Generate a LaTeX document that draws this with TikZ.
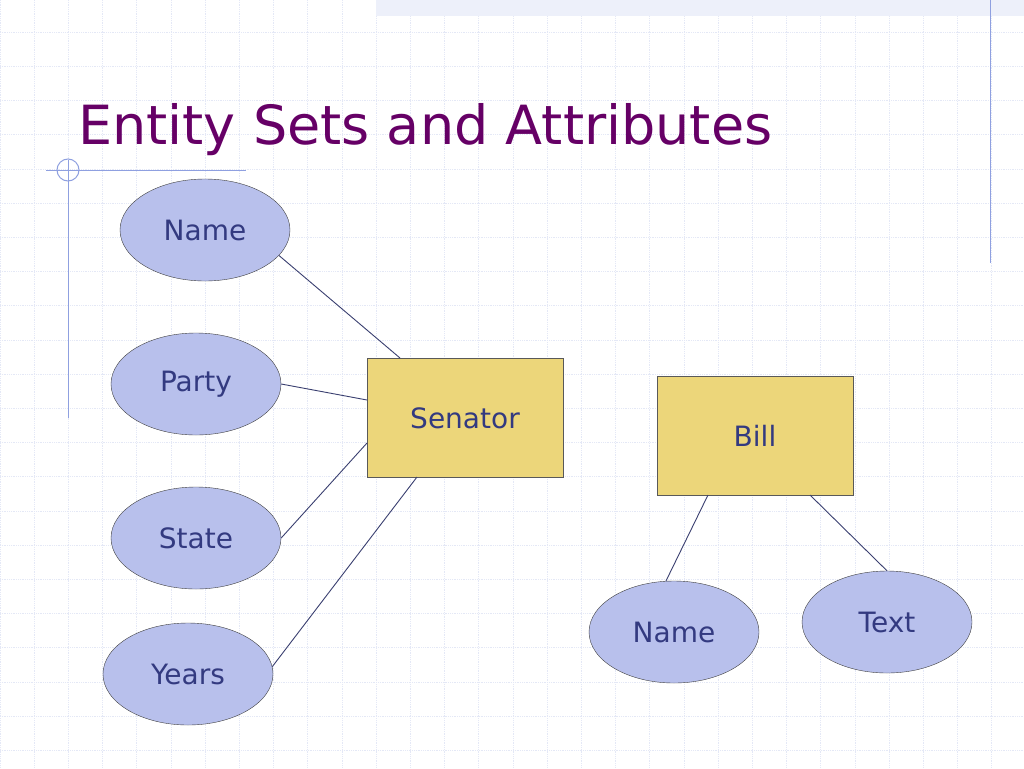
\documentclass[tikz,border=0pt]{standalone}
\usepackage{fontspec}
\setmainfont{DejaVu Sans}
\usetikzlibrary{shapes.geometric}
\definecolor{gridc}{HTML}{E4E8F6}
\definecolor{deco}{HTML}{8FA0E0}
\definecolor{attrfill}{HTML}{B8C0EC}
\definecolor{attrtext}{HTML}{333A80}
\definecolor{entfill}{HTML}{ECD67A}
\definecolor{titlec}{HTML}{660066}
\definecolor{linkc}{HTML}{3A3F70}
\tikzset{
 attr/.style={ellipse,draw=black!75,fill=attrfill,minimum width=170pt,minimum height=102pt,text=attrtext,font=\fontsize{28}{32}\selectfont,inner sep=0pt},
 ent/.style={rectangle,draw=black!65,fill=entfill,minimum width=196pt,minimum height=119pt,text=attrtext,font=\fontsize{28}{32}\selectfont},
 link/.style={draw=linkc,line width=0.9pt}
}
\begin{document}
\begin{tikzpicture}[x=1pt,y=-1pt]
\useasboundingbox (0,0) rectangle (1024,768);
\fill[white] (0,0) rectangle (1024,768);
\foreach \i in {0,...,30} {\draw[gridc,line width=0.8pt,densely dotted] (34.2*\i,0) -- (34.2*\i,768);}
\foreach \j in {0,...,23} {\draw[gridc,line width=0.8pt,densely dotted] (0,34.2*\j-2) -- (1024,34.2*\j-2);}
\fill[gridc!80!deco!40] (376,0) rectangle (1024,16);
\draw[deco,line width=1pt] (990,0) -- (990,263);
\draw[deco,line width=1pt] (46,170) -- (246,170);
\draw[deco,line width=1pt] (68,160) -- (68,418);
\draw[deco,line width=1pt] (68,170) circle (11);
\node[anchor=base west,text=titlec,font=\fontsize{54}{60}\selectfont,inner sep=0pt] (title) at (78,144) {Entity Sets and Attributes};
\node[attr] (name) at (205,230) {Name};
\node[attr] (party) at (196,384) {Party};
\node[attr] (state) at (196,538) {State};
\node[attr] (years) at (188,674) {Years};
\node[attr] (bname) at (674,632) {Name};
\node[attr] (btext) at (887,622) {Text};
\node[ent] (sen) at (465,418) {Senator};
\node[ent] (bill) at (755,436) {Bill};
\coordinate (s1) at (400,358);
\coordinate (s2) at (367,400);
\coordinate (s3) at (367,443);
\coordinate (s4) at (417,477);
\coordinate (b1) at (708,495);
\coordinate (b2) at (810,495);
\draw[link] (name.-19) -- (s1);
\draw[link] (party.0) -- (s2);
\draw[link] (state.0) -- (s3);
\draw[link] (years.5) -- (s4);
\draw[link] (bname.99) -- (b1);
\draw[link] (btext.90) -- (b2);
\end{tikzpicture}
\end{document}
